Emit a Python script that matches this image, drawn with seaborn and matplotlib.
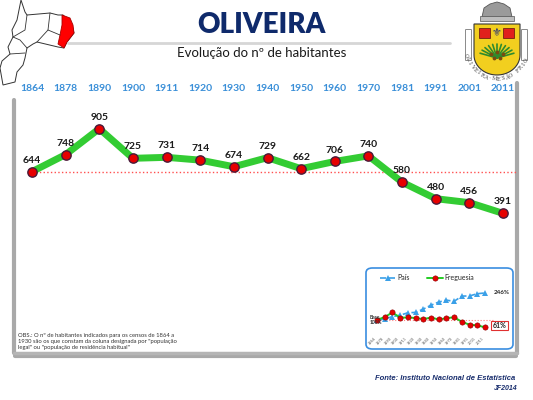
import numpy as np
import pandas as pd
import seaborn as sns
import matplotlib.pyplot as plt
from matplotlib.patches import Polygon, FancyBboxPatch, Rectangle

sns.set_theme(style="white")
plt.rcParams['font.family'] = ['Lato', 'DejaVu Sans']

# ----------------------------------------------------------------------------------------------------------------------
# Data
anos = ["1864", "1878", "1890", "1900", "1911", "1920", "1930", "1940",
        "1950", "1960", "1970", "1981", "1991", "2001", "2011"]
habitantes = [644, 748, 905, 725, 731, 714, 674, 729, 662, 706, 740, 580, 480, 456, 391]
pais_pct = [100, 106, 118, 126, 139, 141, 159, 180, 197, 207, 201, 229, 230, 242, 246]

titulo = "OLIVEIRA"
subtitulo = "Evolução do nº de habitantes"
nota = ('OBS.: O nº de habitantes indicados para os censos de 1864 a\n'
        '1930 são os que constam da coluna designada por "população\n'
        'legal" ou "população de residência habitual"')
fonte = "Fonte: Instituto Nacional de Estatística"
assinatura = "JF2014"

df = pd.DataFrame({"pos": range(len(anos)), "ano": anos, "hab": habitantes})
df["freg_pct"] = df["hab"] / df["hab"].iloc[0] * 100
df["pais_pct"] = pais_pct

W, H = 533, 400
fig = plt.figure(figsize=(W / 100, H / 100), dpi=100)
fig.patch.set_facecolor("white")


def box(x0, y0, x1, y1):
    """ pixel box (top-left origin) -> figure fraction rect """
    return [x0 / W, 1 - y1 / H, (x1 - x0) / W, (y1 - y0) / H]


# Decoration layer in pixel coords (y down)
deco = fig.add_axes([0, 0, 1, 1], zorder=0)
deco.set_xlim(0, W)
deco.set_ylim(H, 0)
deco.set_axis_off()

# Panel frame + shadow
deco.plot([14, 14], [100, 353], color="#a9a9a9", lw=3, solid_capstyle="round")
deco.plot([517, 517], [83, 353], color="#a9a9a9", lw=3, solid_capstyle="round")
deco.plot([15, 516], [356, 356], color="#6f6f6f", lw=3, alpha=0.6, solid_capstyle="round")
deco.plot([14, 517], [353, 353], color="#b5b5b5", lw=2.5, solid_capstyle="round")

# Title line + texts
deco.plot([68, 450], [43, 43], color="#d6d6d6", lw=2)
deco.text(261, 25, titulo, ha="center", va="center", fontsize=20, fontweight="heavy", color="#0f2a6b")
deco.text(262, 53, subtitulo, ha="center", va="center", fontsize=9.5, color="#1a1a1a")

# Map of the municipality (rough)
contorno = [(21, 0), (25, 12), (27, 15), (50, 13), (58, 15), (63, 15), (72, 25), (74, 33), (67, 42),
            (64, 48), (58, 47), (37, 42), (33, 44), (27, 48), (25, 58), (23, 65), (17, 72), (15, 82),
            (3, 85), (0, 68), (2, 61), (10, 54), (8, 47), (13, 37), (12, 30), (17, 20)]
deco.add_patch(Polygon(contorno, closed=True, fc="white", ec="#333333", lw=0.7))
freguesia = [(62, 15), (70, 18), (73, 25), (74, 33), (67, 42), (64, 48), (58, 44), (60, 35), (62, 25)]
deco.add_patch(Polygon(freguesia, closed=True, fc="#ff0000", ec="#aa0000", lw=0.6))
for linha in [[(50, 13), (48, 30), (37, 42)], [(48, 30), (60, 35)], [(13, 37), (20, 40), (27, 48)],
              [(10, 54), (25, 53)], [(27, 15), (25, 30), (13, 37)]]:
    xs, ys = zip(*linha)
    deco.plot(xs, ys, color="#333333", lw=0.6)

# Coat of arms (rough)
cx = 497
crown = [(482, 17), (484, 8), (490, 4), (497, 2), (504, 4), (510, 8), (512, 17)]
deco.add_patch(Polygon(crown, closed=True, fc="#9a9a9a", ec="#555555", lw=0.6))
deco.add_patch(Rectangle((480, 16), 34, 5, fc="#bdbdbd", ec="#555555", lw=0.5))
shield = [(474, 24), (520, 24), (520, 55)] + \
         [(cx + 23 * np.cos(a), 55 + 20 * np.sin(a)) for a in np.linspace(0, np.pi, 30)] + [(474, 55)]
deco.add_patch(Polygon(shield, closed=True, fc="#f2cf1f", ec="#333333", lw=0.8))
deco.add_patch(Rectangle((479, 28), 11, 10, fc="#e0201c", ec="#5a1010", lw=0.5))
deco.add_patch(Rectangle((503, 28), 11, 10, fc="#e0201c", ec="#5a1010", lw=0.5))
deco.text(cx, 33, "⚜", ha="center", va="center", fontsize=8, color="#1a2a80",
          family=["DejaVu Sans"])
for ang in np.linspace(200, 340, 11):
    a = np.radians(ang)
    deco.plot([cx, cx + 18 * np.cos(a)], [58, 58 + 14 * np.sin(a)], color="#2e8b2e", lw=1.2)
deco.scatter([cx - 6, cx, cx + 6, cx - 3, cx + 3], [54, 52, 54, 58, 58], s=3, color="#7a4a10", zorder=3)
for x0 in (466, 522):
    deco.add_patch(FancyBboxPatch((x0, 30), 5, 30, boxstyle="round,pad=0.5", fc="white", ec="#777777", lw=0.6))
lema = "OLIVEIRA-MESÃO FRIO"
for k, ch in enumerate(lema):
    ang = np.radians(165 - k * (140 / (len(lema) - 1)))
    deco.text(cx + 32 * np.cos(ang), 47 + 32 * np.sin(ang), ch, ha="center", va="center",
              fontsize=3.8, color="#444444", rotation=90 - np.degrees(ang), family=["DejaVu Serif"])

# Notes
deco.text(18, 333, nota, ha="left", va="top", fontsize=4.2, color="#333333", linespacing=1.25)
deco.text(515, 378, fonte, ha="right", va="center", fontsize=5.5, fontweight="bold", fontstyle="italic",
          color="#1a2f6e", family=["Liberation Sans"])
deco.text(518, 388, assinatura, ha="right", va="center", fontsize=5, fontweight="bold", fontstyle="italic",
          color="#1a2f6e", family=["Liberation Sans"])

# ----------------------------------------------------------------------------------------------------------------------
# Main chart
ax = fig.add_axes(box(14, 100, 517, 300), zorder=2)
ax.patch.set_alpha(0)
step = (503 - 32) / 14
ax.set_xlim(-(32 - 14) / step, 14 + (517 - 503) / step)
ax.set_ylim(-135, 1079)

ax.hlines(df["hab"].iloc[0], 0, ax.get_xlim()[1], colors="#ff5050", linestyles=":", lw=1)
sns.lineplot(data=df, x="pos", y="hab", color="#33cc33", linewidth=5, ax=ax)
sns.scatterplot(data=df, x="pos", y="hab", color="#e60000", s=45, edgecolor="#4a1a3a", linewidth=1,
                zorder=5, ax=ax)

for i, v in zip(df["pos"], df["hab"]):
    ax.annotate(str(v), (i, v), xytext=(0, 5), textcoords="offset points", ha="center", va="bottom",
                fontsize=7.5, fontweight="bold", color="#1a1a1a")

ax.set_xticks(df["pos"])
ax.set_xticklabels(df["ano"])
ax.xaxis.tick_top()
ax.tick_params(axis="x", length=0, pad=5, labelsize=7.5, labelcolor="#3a8fd8")
for lab in ax.get_xticklabels():
    lab.set_fontweight("bold")
ax.set_yticks([])
ax.set_xlabel("")
ax.set_ylabel("")
sns.despine(ax=ax, left=True, bottom=True, top=True, right=True)

# ----------------------------------------------------------------------------------------------------------------------
# Inset chart
fig.add_artist(FancyBboxPatch((366 / W, 1 - 349 / H), 147 / W, 81 / H,
                              boxstyle="round,pad=0,rounding_size=0.012", transform=fig.transFigure,
                              fc="white", ec="#3a8ee0", lw=1.2, zorder=3))
iax = fig.add_axes(box(366, 285, 512, 335), zorder=4)
iax.patch.set_alpha(0)
istep = (485 - 377) / 14
iax.set_xlim(-(377 - 366) / istep, 14 + (512 - 485) / istep)
iax.set_ylim(19, 289)

iax.hlines(100, 0, 15.0, colors="#ff8080", linestyles=":", lw=0.8)
sns.lineplot(data=df, x="pos", y="pais_pct", color="#3aa0e8", linewidth=1.2, linestyle="--",
             marker="^", markersize=4, markeredgewidth=0, label="País", ax=iax)
sns.lineplot(data=df, x="pos", y="freg_pct", color="#22cc22", linewidth=1.4, marker="o", markersize=3.8,
             markerfacecolor="#e60000", markeredgecolor="#8a0000", markeredgewidth=0.4,
             label="Freguesia", ax=iax)

iax.text(15.2, df["pais_pct"].iloc[-1], f"{df['pais_pct'].iloc[-1]:.0f}%", ha="left", va="center",
         fontsize=4.5, fontweight="bold", color="#222222")
iax.text(15.0, df["freg_pct"].iloc[-1] + 10, f"{df['freg_pct'].iloc[-1]:.0f}%", ha="left", va="center",
         fontsize=5, fontweight="bold", color="#222222",
         bbox=dict(boxstyle="square,pad=0.2", fc="white", ec="#e03030", lw=0.8))
iax.text(-1.0, 100, "Base\n100%", ha="left", va="center", fontsize=3.5, fontweight="bold",
         color="#333333", linespacing=1.1)

iax.set_xticks(df["pos"])
iax.set_xticklabels(df["ano"], rotation=45, ha="right")
iax.tick_params(axis="x", length=0, pad=1, labelsize=2.8, labelcolor="#555555")
iax.set_yticks([])
iax.set_xlabel("")
iax.set_ylabel("")
sns.despine(ax=iax, left=True, bottom=True, top=True, right=True)
iax.legend(loc="lower center", bbox_to_anchor=(0.42, 1.02), ncol=2, frameon=False, fontsize=5,
           handlelength=2.2, columnspacing=2.5, handletextpad=0.3, borderaxespad=0)

fig.savefig("out.png", dpi=100, facecolor="white")
